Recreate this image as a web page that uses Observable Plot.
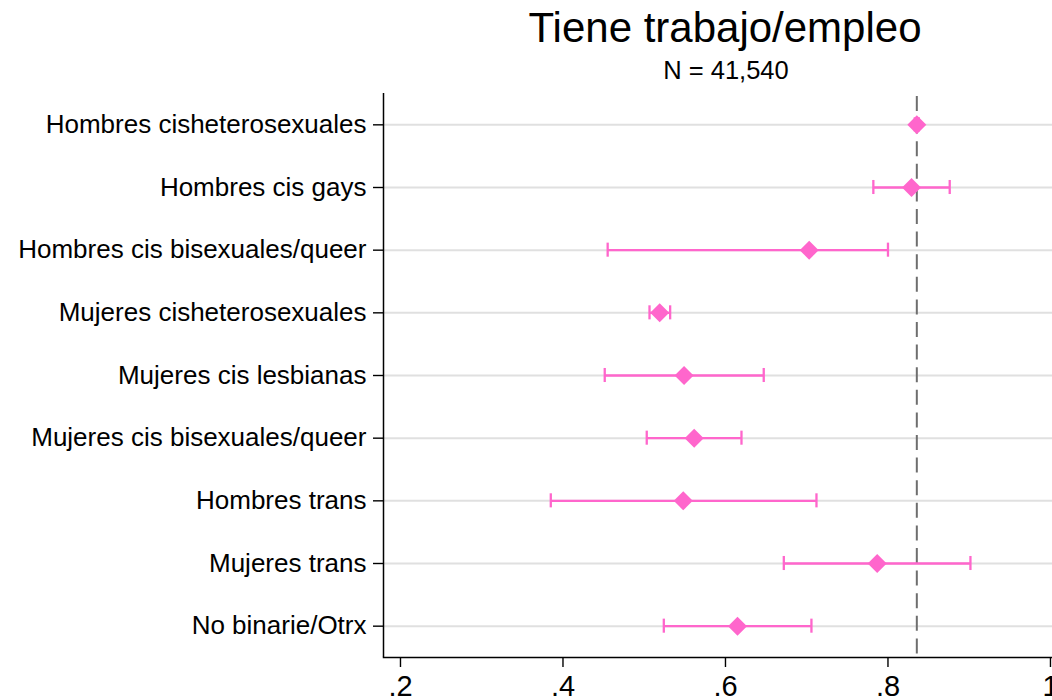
<!DOCTYPE html>
<html>
<head>
<meta charset="utf-8">
<script src="https://cdn.jsdelivr.net/npm/d3@7"></script>
<script src="https://cdn.jsdelivr.net/npm/@observablehq/plot@0.6"></script>
<style>
  html, body { margin: 0; padding: 0; background: #fff; overflow: hidden; }
  #wrap { width: 1052px; height: 700px; position: relative; font-family: "Liberation Sans", Arial, Helvetica, sans-serif; color: #000; }
  #head { position: relative; width: 1052px; height: 88px; }
  #title { position: absolute; left: 725px; top: 7px; transform: translateX(-50%); font-size: 42px; line-height: 42px; white-space: nowrap; }
  #subtitle { position: absolute; left: 726px; top: 58px; transform: translateX(-50%); font-size: 25.5px; line-height: 25.5px; white-space: nowrap; }
</style>
</head>
<body>
<div id="wrap">
  <div id="head">
    <div id="title">Tiene trabajo/empleo</div>
    <div id="subtitle">N = 41,540</div>
  </div>
  <div id="chart"></div>
</div>
<script>
const groups = [
  "Hombres cisheterosexuales",
  "Hombres cis gays",
  "Hombres cis bisexuales/queer",
  "Mujeres cisheterosexuales",
  "Mujeres cis lesbianas",
  "Mujeres cis bisexuales/queer",
  "Hombres trans",
  "Mujeres trans",
  "No binarie/Otrx"
];
const estimate = [0.8355, 0.829, 0.703, 0.519, 0.549, 0.5615, 0.548, 0.7867, 0.6148];
const lower    = [0.8330, 0.782, 0.455, 0.5065, 0.4514, 0.5031, 0.385, 0.6718, 0.5241];
const upper    = [0.8380, 0.876, 0.800, 0.5319, 0.6471, 0.6197, 0.712, 0.9015, 0.7058];
const reference = 0.8355;
const xTicks = [0.2, 0.4, 0.6, 0.8, 1];
const xDomain = [0.1791, 1.0025];

const data = groups.map((g, i) => ({group: g, est: estimate[i], lo: lower[i], hi: upper[i]}));

const pink = "#ff66cc";
const diamond = {
  draw(context, size) {
    const h = Math.sqrt(size / Math.PI);
    context.moveTo(0, -h);
    context.lineTo(h, 0);
    context.lineTo(0, h);
    context.lineTo(-h, 0);
    context.closePath();
  }
};

const fmt = d => d === 1 ? "1" : d3.format(".1f")(d).replace(/^0/, "");

const chart = Plot.plot({
  width: 1052,
  height: 612,
  marginTop: 5,
  marginBottom: 43,
  marginLeft: 383,
  marginRight: 0,
  style: {fontFamily: "Liberation Sans, Arial, Helvetica, sans-serif", color: "#000", background: "#fff", overflow: "visible"},
  x: {domain: xDomain, label: null},
  y: {domain: groups, label: null, padding: 0, round: false},
  marks: [
    Plot.gridY({stroke: "#e0e0e0", strokeOpacity: 1, strokeWidth: 2}),
    Plot.ruleX([reference], {stroke: "#6e6e6e", strokeWidth: 2, strokeDasharray: "15,7.6", strokeDashoffset: -3}),
    Plot.ruleY(data, {y: "group", x1: "lo", x2: "hi", stroke: pink, strokeWidth: 2.3}),
    Plot.tickX(data, {y: "group", x: "lo", stroke: pink, strokeWidth: 2.3, insetTop: 24.3, insetBottom: 24.3}),
    Plot.tickX(data, {y: "group", x: "hi", stroke: pink, strokeWidth: 2.3, insetTop: 24.3, insetBottom: 24.3}),
    Plot.dot(data, {y: "group", x: "est", symbol: diamond, r: 9.5, fill: pink, stroke: null}),
    Plot.ruleX([xDomain[0]], {stroke: "#000", strokeWidth: 1.5}),
    Plot.axisY({tickSize: 10, tickPadding: 7, fontSize: 26, strokeWidth: 1.4, label: null}),
    Plot.axisX({ticks: xTicks, tickFormat: fmt, tickSize: 10, tickPadding: 8, fontSize: 29, strokeWidth: 1.4, label: null}),
    Plot.frame({anchor: "bottom", stroke: "#000", strokeWidth: 1.5})
  ]
});
document.getElementById("chart").appendChild(chart);
</script>
</body>
</html>
